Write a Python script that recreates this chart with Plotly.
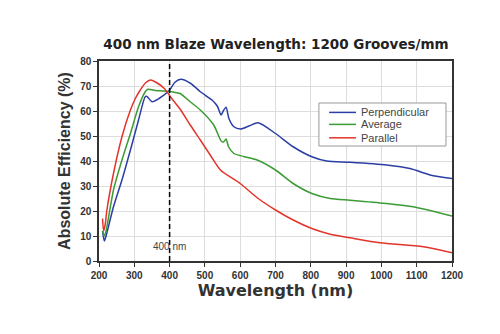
import plotly.graph_objects as go

wl_perp = [210, 215, 220, 241, 265, 289, 312, 331, 336, 350, 370, 400, 415, 432, 460, 487, 520, 535, 546, 552, 560, 568, 582, 601, 625, 651, 700, 750, 803, 845, 911, 1015, 1081, 1138, 1200]
perp =    [12,  8,   10,  21.7,32.4,44.4,56.4,65.7,65.8,63.7,65,  68.4,71.5,72.7,71,  67.7,64.4,62,  58.4,60,  61.5,57,  53.7,52.8,54,  55.3,51,  45.7,41.7,40,  39.5,38.4,37,  34.4,33]

wl_avg = [210, 215, 220, 241, 265, 289, 312, 331, 338, 360, 380, 410, 430, 460, 487, 525, 546, 553, 560, 567, 582, 610, 648, 700, 750, 803, 855, 911, 1015, 1090, 1200]
avg =    [12,  10,  12,  28.4,40.4,51,  61.7,67.7,68.7,68.2,68,  67.6,67,  63.5,60.4,54.4,48,  47.6,48.8,45.7,43,  41.8,40.4,36.4,31,  27,  25,  24.3,23,   21.7, 18]

wl_par = [210, 213, 218, 222, 241, 265, 289, 303, 317, 332, 346, 365, 385, 406, 430, 458, 487, 516, 544, 600, 651, 700, 750, 803, 855, 911, 996, 1119, 1200]
par =    [17,  12,  15,  20,  35,  49.7,60.4,65,  68.4,71.3,72.4,71.2,69,  65,  60.7,54.5,48.4,42.2,36.4,31,  25,  20.4,16.4,13,  10.7,9.3, 7.3, 5.7,  3.3]

series_names = ["Perpendicular", "Average", "Parallel"]
colors = ["#2b3ea6", "#3b9b34", "#e3342b"]

fig = go.Figure()
for name, xs, ys, c in zip(series_names, [wl_perp, wl_avg, wl_par], [perp, avg, par], colors):
    fig.add_trace(go.Scatter(x=xs, y=ys, mode="lines", name=name, showlegend=False,
                             line=dict(color=c, width=1.5, shape="spline", smoothing=0.7)))

fig.add_shape(type="line", x0=400, x1=400, y0=0, y1=80, xref="x", yref="y",
              line=dict(color="black", width=1.5, dash="5px,3px"))
fig.add_annotation(x=400, y=6, text="400 nm", showarrow=False,
                   font=dict(family="Arial", size=10, color="#444"))

# manual legend
lx0, lx1, ly0, ly1 = 0.623, 0.983, 0.575, 0.79
fig.add_shape(type="rect", xref="paper", yref="paper", x0=lx0, x1=lx1, y0=ly0, y1=ly1,
              line=dict(color="#999", width=1), fillcolor="white", layer="above")
rows = [0.743, 0.683, 0.616]
for name, c, ry in zip(series_names, colors, rows):
    fig.add_shape(type="line", xref="paper", yref="paper", x0=0.652, x1=0.728, y0=ry, y1=ry,
                  line=dict(color=c, width=1.5), layer="above")
    fig.add_annotation(xref="paper", yref="paper", x=0.737, y=ry, text=name, showarrow=False,
                       xanchor="left", yanchor="middle",
                       font=dict(family="Arial", size=11, color="#444"))

fig.update_layout(
    width=500, height=334,
    margin=dict(l=99, r=48, t=61, b=73),
    paper_bgcolor="white", plot_bgcolor="white",
    showlegend=False,
    title=dict(text="<b>400 nm Blaze Wavelength: 1200 Grooves/mm</b>", x=0.552, xanchor="center",
               y=0.868, yanchor="middle", font=dict(family="DejaVu Sans", size=13.5, color="#222")),
    font=dict(family="Arial"),
)
fig.update_xaxes(range=[200, 1200], dtick=100, showgrid=True, gridcolor="#dddddd",
                 showline=True, linecolor="#333", linewidth=1.5, mirror=True,
                 ticks="outside", ticklen=4, tickcolor="#333", zeroline=False,
                 tickfont=dict(family="Arial", size=10, color="#333", weight="bold"),
                 title=dict(text="<b>Wavelength (nm)</b>", font=dict(family="DejaVu Sans", size=16, color="#333"), standoff=4))
fig.update_yaxes(range=[0, 80], dtick=10, showgrid=True, gridcolor="#dddddd",
                 showline=True, linecolor="#333", linewidth=1.5, mirror=True,
                 ticks="outside", ticklen=4, tickcolor="#333", zeroline=False,
                 tickfont=dict(family="Arial", size=10, color="#333", weight="bold"),
                 title=dict(text="<b>Absolute Efficiency (%)</b>", font=dict(family="Arial", size=16, color="#333"), standoff=6))

fig.write_html("out.html")
